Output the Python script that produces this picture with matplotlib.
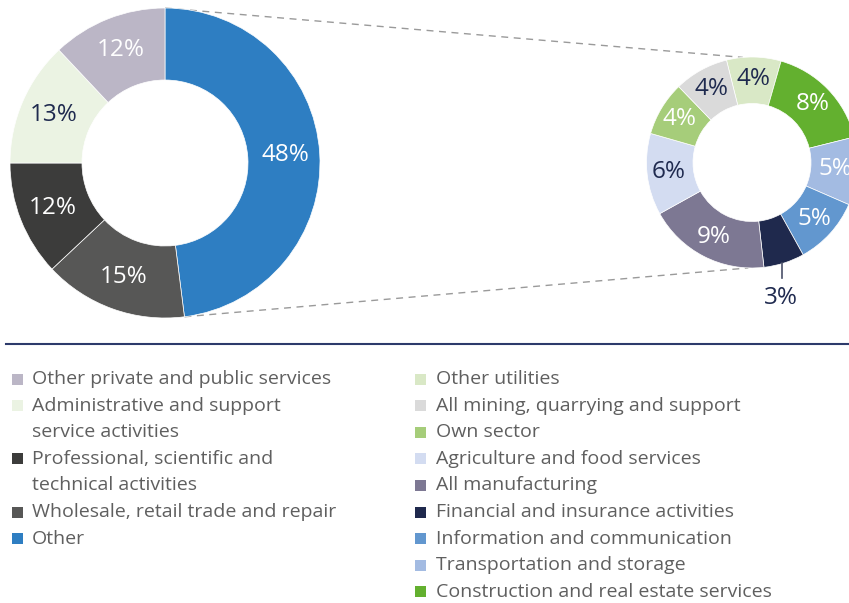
import numpy as np
import matplotlib.pyplot as plt
from matplotlib.patches import Rectangle

plt.rcParams['font.family'] = ['Open Sans', 'DejaVu Sans']

# Donut kiri
left_labels = ['Other', 'Wholesale, retail trade and repair',
               'Professional, scientific and\ntechnical activities',
               'Administrative and support\nservice activities',
               'Other private and public services']
left_values = [48, 15, 12, 13, 12]
left_colors = ['#2e7ec2', '#575756', '#3c3c3b', '#ebf3e3', '#bbb6c6']
left_text = ['white', 'white', 'white', '#1f2a4f', 'white']

# Donut kanan (pecahan dari "Other")
right_labels = ['Other utilities', 'Construction and real estate services',
                'Transportation and storage', 'Information and communication',
                'Financial and insurance activities', 'All manufacturing',
                'Agriculture and food services', 'Own sector',
                'All mining, quarrying and support']
right_values = [4, 8, 5, 5, 3, 9, 6, 4, 4]
right_colors = ['#d9e8c6', '#63b02f', '#a3bbe2', '#6297cf', '#1f294d',
                '#7d7893', '#d3dcf1', '#a6cd7a', '#dadada']
right_text = ['#1f2a4f', 'white', 'white', 'white', '#1f2a4f', 'white',
              '#1f2a4f', 'white', '#1f2a4f']

legend_left = [4, 3, 2, 1, 0]
legend_right = [0, 8, 7, 6, 5, 4, 3, 2, 1]

W, H = 849, 603
fig = plt.figure(figsize=(W / 100, H / 100), dpi=100)
ax = fig.add_axes([0, 0, 1, 1])

navy = '#1f2a4f'
pct_size = 17.5

# donut kiri
cL, RL = (165, H - 163), 155
wl, _ = ax.pie(left_values, colors=left_colors, startangle=90, counterclock=False,
               center=cL, radius=RL,
               wedgeprops=dict(width=RL - 83, linewidth=0.5, edgecolor='white'))
for w, v, tc in zip(wl, left_values, left_text):
    a = np.deg2rad((w.theta1 + w.theta2) / 2)
    ax.text(cL[0] + 121 * np.cos(a), cL[1] + 121 * np.sin(a), f'{v}%',
            ha='center', va='center', fontsize=pct_size, color=tc)

# donut kanan
cR, RR = (752, H - 162.5), 105.5
start = 90 + 14
wr, _ = ax.pie(right_values, colors=right_colors, startangle=start, counterclock=False,
               center=cR, radius=RR,
               wedgeprops=dict(width=RR - 59, linewidth=0.5, edgecolor='white'))
for w, v, tc in zip(wr, right_values, right_text):
    a = np.deg2rad((w.theta1 + w.theta2) / 2)
    if v == 3:
        # label di luar dengan garis penunjuk
        x0 = cR[0] + RR * np.cos(a) - 2
        ax.plot([x0, x0], [H - 263, H - 278], color='#4a5068', lw=1.2)
        ax.text(x0 - 1, H - 298, f'{v}%', ha='center', va='center',
                fontsize=pct_size, color=navy)
    else:
        ax.text(cR[0] + 84 * np.cos(a), cR[1] + 84 * np.sin(a), f'{v}%',
                ha='center', va='center', fontsize=pct_size, color=tc)

# garis putus-putus penghubung
a_top_l = np.deg2rad(90)
a_bot_l = np.deg2rad(90 - 360 * left_values[0] / 100)
a_top_r, a_bot_r = np.deg2rad(95), np.deg2rad(268)
for al, ar in [(a_top_l, a_top_r), (a_bot_l, a_bot_r)]:
    ax.plot([cL[0] + RL * np.cos(al), cR[0] + RR * np.cos(ar)],
            [cL[1] + RL * np.sin(al), cR[1] + RR * np.sin(ar)],
            color='#9a9a9a', lw=1, ls=(0, (5, 4)), zorder=0)

# garis pemisah
ax.plot([6, W], [H - 344, H - 344], color='#2d3a6b', lw=1.5)

# legenda
row_h = 26.6
y0 = 379


def legend_col(order, labels, colors, xs, xt):
    row = 0
    for i in order:
        y = H - (y0 + row * row_h)
        ax.add_patch(Rectangle((xs, y - 5.5), 11, 11, color=colors[i], lw=0))
        lines = labels[i].split('\n')
        for k, line in enumerate(lines):
            ax.text(xt, y - k * row_h, line, ha='left', va='center',
                    fontsize=14, color='#5f5f5f')
        row += len(lines)


legend_col(legend_left, left_labels, left_colors, 12, 32)
legend_col(legend_right, right_labels, right_colors, 415, 436)

ax.set_xlim(0, W)
ax.set_ylim(0, H)
ax.set_aspect('equal')
ax.axis('off')
fig.savefig('out.png', dpi=100)
